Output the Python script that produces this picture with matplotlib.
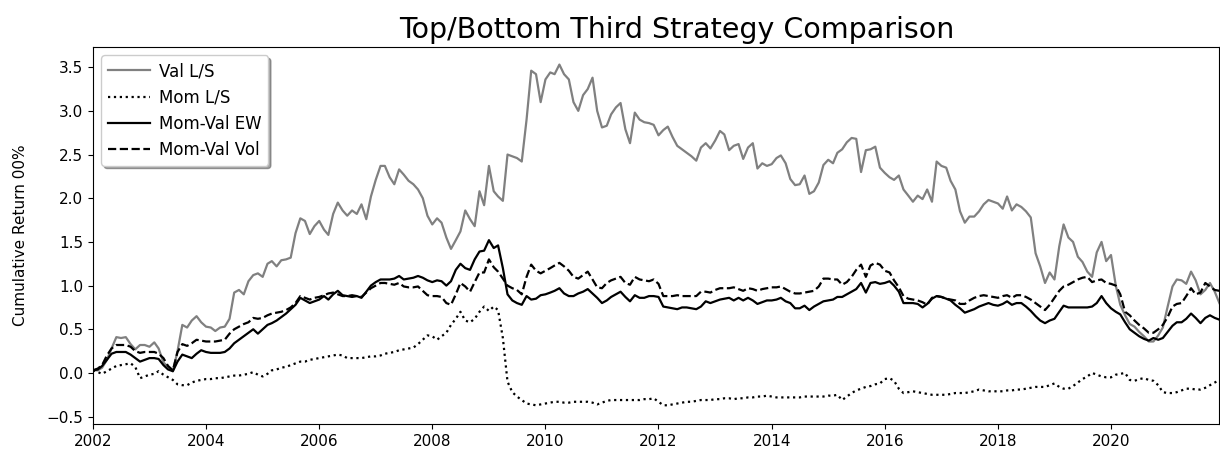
import matplotlib
matplotlib.use("Agg")
import matplotlib.dates as mdates
import matplotlib.pyplot as plt
import numpy as np
import pandas as pd

# monthly cumulative returns, Jan 2002 - Dec 2021 (one row per year)
dates = pd.date_range("2002-01-01", periods=240, freq="MS")

val_ls = [
    0.03, 0.03, 0.06, 0.15, 0.28, 0.41, 0.40, 0.41, 0.33, 0.27, 0.32, 0.32,
    0.30, 0.35, 0.28, 0.12, 0.07, 0.02, 0.25, 0.55, 0.52, 0.60, 0.65, 0.58,
    0.53, 0.52, 0.48, 0.52, 0.53, 0.62, 0.92, 0.95, 0.90, 1.05, 1.12, 1.14,
    1.10, 1.25, 1.28, 1.22, 1.29, 1.30, 1.32, 1.60, 1.77, 1.74, 1.59, 1.68,
    1.74, 1.64, 1.58, 1.82, 1.95, 1.86, 1.80, 1.86, 1.82, 1.93, 1.76, 2.02,
    2.21, 2.37, 2.37, 2.24, 2.16, 2.33, 2.27, 2.20, 2.16, 2.10, 2.00, 1.80,
    1.70, 1.77, 1.72, 1.55, 1.42, 1.52, 1.62, 1.86, 1.76, 1.68, 2.08, 1.92,
    2.37, 2.08, 2.02, 1.97, 2.50, 2.48, 2.46, 2.42, 2.90, 3.46, 3.42, 3.10,
    3.36, 3.44, 3.42, 3.53, 3.42, 3.36, 3.10, 3.00, 3.18, 3.25, 3.38, 3.00,
    2.81, 2.83, 2.96, 3.04, 3.09, 2.79, 2.63, 2.98, 2.90, 2.87, 2.86, 2.84,
    2.72, 2.78, 2.82, 2.70, 2.60, 2.56, 2.52, 2.48, 2.43, 2.58, 2.63, 2.57,
    2.66, 2.77, 2.73, 2.55, 2.60, 2.62, 2.45, 2.58, 2.63, 2.34, 2.40, 2.37,
    2.39, 2.46, 2.49, 2.40, 2.22, 2.15, 2.16, 2.26, 2.05, 2.08, 2.18, 2.38,
    2.44, 2.40, 2.52, 2.56, 2.64, 2.69, 2.68, 2.30, 2.55, 2.56, 2.59, 2.35,
    2.29, 2.24, 2.21, 2.26, 2.10, 2.03, 1.96, 2.03, 1.99, 2.10, 1.96, 2.42,
    2.37, 2.35, 2.20, 2.10, 1.85, 1.72, 1.79, 1.79, 1.85, 1.93, 1.98, 1.96,
    1.94, 1.88, 2.02, 1.86, 1.93, 1.90, 1.85, 1.78, 1.37, 1.22, 1.03, 1.15,
    1.07, 1.45, 1.70, 1.55, 1.50, 1.33, 1.27, 1.16, 1.10, 1.38, 1.50, 1.28,
    1.35, 1.00, 0.78, 0.66, 0.56, 0.53, 0.47, 0.42, 0.36, 0.36, 0.43, 0.52,
    0.76, 0.99, 1.07, 1.06, 1.02, 1.16, 1.06, 0.90, 0.95, 1.03, 0.93, 0.80,
]

mom_ls = [
    0.03, 0.01, -0.01, 0.02, 0.05, 0.08, 0.09, 0.10, 0.11, 0.07, -0.06, -0.04,
    -0.02, -0.01, 0.02, -0.02, -0.05, -0.08, -0.13, -0.14, -0.14, -0.11, -0.09, -0.08,
    -0.07, -0.07, -0.06, -0.06, -0.05, -0.04, -0.03, -0.03, -0.02, -0.01, 0.01, -0.02,
    -0.04, -0.01, 0.03, 0.04, 0.06, 0.07, 0.09, 0.11, 0.13, 0.13, 0.15, 0.16,
    0.17, 0.18, 0.19, 0.20, 0.21, 0.20, 0.17, 0.17, 0.17, 0.17, 0.18, 0.19,
    0.19, 0.20, 0.22, 0.23, 0.24, 0.26, 0.27, 0.28, 0.29, 0.33, 0.38, 0.43,
    0.42, 0.38, 0.42, 0.46, 0.55, 0.62, 0.70, 0.60, 0.58, 0.62, 0.70, 0.76,
    0.71, 0.76, 0.72, 0.40, -0.10, -0.22, -0.27, -0.31, -0.35, -0.36, -0.37, -0.36,
    -0.35, -0.34, -0.33, -0.33, -0.34, -0.34, -0.33, -0.33, -0.33, -0.33, -0.34, -0.36,
    -0.34, -0.32, -0.31, -0.31, -0.31, -0.31, -0.31, -0.31, -0.31, -0.30, -0.30, -0.29,
    -0.33, -0.37, -0.37, -0.36, -0.35, -0.34, -0.33, -0.33, -0.32, -0.31, -0.31, -0.31,
    -0.30, -0.30, -0.29, -0.29, -0.30, -0.29, -0.29, -0.28, -0.28, -0.27, -0.27, -0.26,
    -0.27, -0.28, -0.28, -0.28, -0.28, -0.28, -0.28, -0.27, -0.27, -0.27, -0.27, -0.27,
    -0.26, -0.26, -0.25, -0.31, -0.27, -0.23, -0.20, -0.18, -0.16, -0.15, -0.13, -0.12,
    -0.07, -0.06, -0.09, -0.18, -0.23, -0.22, -0.21, -0.22, -0.23, -0.24, -0.25, -0.25,
    -0.25, -0.25, -0.24, -0.23, -0.23, -0.23, -0.22, -0.21, -0.19, -0.20, -0.21, -0.21,
    -0.21, -0.21, -0.20, -0.20, -0.19, -0.19, -0.18, -0.17, -0.16, -0.16, -0.16, -0.14,
    -0.12, -0.16, -0.18, -0.18, -0.15, -0.11, -0.07, -0.04, 0.00, -0.02, -0.04, -0.05,
    -0.05, -0.02, -0.01, 0.00, -0.08, -0.09, -0.07, -0.06, -0.08, -0.09, -0.14, -0.22,
    -0.23, -0.23, -0.22, -0.20, -0.18, -0.18, -0.19, -0.19, -0.17, -0.14, -0.11, -0.08,
]

mom_val_ew = [
    0.03, 0.04, 0.08, 0.15, 0.22, 0.24, 0.24, 0.24, 0.21, 0.17, 0.13, 0.15,
    0.17, 0.17, 0.16, 0.09, 0.04, 0.02, 0.13, 0.21, 0.19, 0.17, 0.22, 0.26,
    0.24, 0.23, 0.23, 0.23, 0.24, 0.28, 0.34, 0.38, 0.42, 0.46, 0.50, 0.45,
    0.50, 0.55, 0.57, 0.60, 0.64, 0.68, 0.73, 0.78, 0.86, 0.83, 0.80, 0.82,
    0.84, 0.88, 0.84, 0.90, 0.94, 0.89, 0.88, 0.87, 0.88, 0.86, 0.93, 1.00,
    1.04, 1.07, 1.07, 1.07, 1.08, 1.11, 1.07, 1.08, 1.09, 1.11, 1.09, 1.06,
    1.04, 1.06, 1.05, 1.00, 1.05, 1.18, 1.25, 1.20, 1.18, 1.30, 1.39, 1.40,
    1.52, 1.43, 1.46, 1.20, 0.90, 0.83, 0.80, 0.78, 0.88, 0.84, 0.85, 0.89,
    0.90, 0.92, 0.94, 0.97, 0.91, 0.88, 0.88, 0.91, 0.93, 0.96, 0.91, 0.86,
    0.80, 0.83, 0.87, 0.90, 0.93, 0.87, 0.82, 0.89, 0.86, 0.86, 0.88, 0.88,
    0.87, 0.76, 0.75, 0.74, 0.73, 0.75, 0.75, 0.74, 0.73, 0.76, 0.82, 0.80,
    0.82, 0.84, 0.85, 0.86, 0.83, 0.86, 0.83, 0.86, 0.83, 0.79, 0.81, 0.83,
    0.83, 0.84, 0.86, 0.82, 0.80, 0.74, 0.74, 0.77, 0.72, 0.76, 0.79, 0.82,
    0.83, 0.84, 0.87, 0.87, 0.90, 0.93, 0.96, 1.03, 0.92, 1.03, 1.04, 1.02,
    1.03, 1.05, 1.00, 0.93, 0.80, 0.80, 0.80, 0.79, 0.75, 0.79, 0.85, 0.88,
    0.87, 0.85, 0.83, 0.78, 0.74, 0.69, 0.71, 0.73, 0.76, 0.78, 0.80, 0.78,
    0.77, 0.79, 0.82, 0.78, 0.80, 0.80, 0.76, 0.71, 0.65, 0.60, 0.57, 0.60,
    0.62, 0.70, 0.77, 0.75, 0.75, 0.75, 0.75, 0.75, 0.76, 0.80, 0.88, 0.80,
    0.74, 0.70, 0.67, 0.58, 0.50, 0.46, 0.42, 0.39, 0.37, 0.40, 0.38, 0.40,
    0.47, 0.54, 0.58, 0.58, 0.62, 0.68, 0.63, 0.57, 0.63, 0.66, 0.63, 0.61,
]

mom_val_vol = [
    0.03, 0.05, 0.09, 0.20, 0.28, 0.32, 0.32, 0.32, 0.30, 0.25, 0.23, 0.24,
    0.24, 0.24, 0.22, 0.17, 0.08, 0.03, 0.24, 0.33, 0.31, 0.34, 0.38, 0.37,
    0.36, 0.36, 0.36, 0.37, 0.38, 0.45, 0.50, 0.53, 0.56, 0.58, 0.63, 0.62,
    0.63, 0.66, 0.68, 0.69, 0.70, 0.72, 0.75, 0.80, 0.88, 0.86, 0.84, 0.86,
    0.87, 0.89, 0.91, 0.92, 0.90, 0.88, 0.88, 0.89, 0.88, 0.87, 0.92, 0.97,
    1.00, 1.03, 1.03, 1.02, 1.01, 1.03, 0.99, 0.98, 0.98, 0.99, 0.94, 0.89,
    0.88, 0.88, 0.87, 0.80, 0.78, 0.90, 1.03, 0.99, 0.93, 1.04, 1.15, 1.15,
    1.30, 1.21, 1.16, 1.08, 1.00, 0.97, 0.95, 0.90, 1.10, 1.24, 1.17, 1.14,
    1.17, 1.20, 1.23, 1.26, 1.22, 1.17, 1.10, 1.08, 1.12, 1.16, 1.07, 0.98,
    0.97, 1.03, 1.06, 1.08, 1.10, 1.03, 1.01, 1.10, 1.07, 1.06, 1.05, 1.07,
    1.02, 0.88, 0.88, 0.88, 0.89, 0.88, 0.88, 0.88, 0.88, 0.93, 0.93, 0.92,
    0.95, 0.97, 0.97, 0.97, 0.98, 0.96, 0.94, 0.97, 0.96, 0.94, 0.96, 0.97,
    0.98, 0.98, 0.99, 0.96, 0.93, 0.91, 0.91, 0.92, 0.93, 0.94, 0.99, 1.08,
    1.08, 1.07, 1.07, 1.01, 1.04, 1.10, 1.18, 1.24, 1.10, 1.23, 1.26, 1.24,
    1.17, 1.15, 1.06, 0.98, 0.88, 0.85, 0.84, 0.83, 0.81, 0.78, 0.86, 0.88,
    0.87, 0.85, 0.84, 0.83, 0.79, 0.79, 0.83, 0.86, 0.88, 0.89, 0.88, 0.87,
    0.86, 0.88, 0.89, 0.86, 0.89, 0.89, 0.87, 0.84, 0.80, 0.76, 0.72, 0.78,
    0.86, 0.94, 0.99, 1.01, 1.04, 1.07, 1.09, 1.10, 1.04, 1.06, 1.07, 1.03,
    1.02, 1.00, 0.90, 0.70, 0.66, 0.60, 0.55, 0.51, 0.46, 0.46, 0.50, 0.55,
    0.64, 0.76, 0.79, 0.80, 0.88, 0.97, 0.90, 0.92, 1.03, 0.99, 0.95, 0.94,
]

df = pd.DataFrame(
    {
        "Val L/S": val_ls,
        "Mom L/S": mom_ls,
        "Mom-Val EW": mom_val_ew,
        "Mom-Val Vol": mom_val_vol,
    },
    index=dates,
)

styles = {
    "Val L/S": dict(color="gray", linestyle="-"),
    "Mom L/S": dict(color="black", linestyle=":"),
    "Mom-Val EW": dict(color="black", linestyle="-"),
    "Mom-Val Vol": dict(color="black", linestyle="--"),
}

fig = plt.figure(figsize=(12.2, 4.55), dpi=100)
ax = fig.add_axes([0.0762, 0.068, 0.9233, 0.8285])

for name in df.columns:
    ax.plot(df.index, df[name], linewidth=1.6, label=name, **styles[name])

ax.set_xlim(df.index[0], df.index[-1])
ax.set_ylim(-0.585, 3.73)
ax.xaxis.set_major_locator(mdates.YearLocator(2))
ax.xaxis.set_major_formatter(mdates.DateFormatter("%Y"))
ax.tick_params(labelsize=11)
ax.set_ylabel("Cumulative Return 00%", fontsize=11, labelpad=13)
ax.legend(loc="upper left", shadow=True, fontsize=12, handlelength=2.5,
          handletextpad=0.55)

fig.text(0.555, 1 - 30 / 455, "Top/Bottom Third Strategy Comparison",
         fontsize=20.5, ha="center", va="center")

fig.savefig("out.png", dpi=100)
